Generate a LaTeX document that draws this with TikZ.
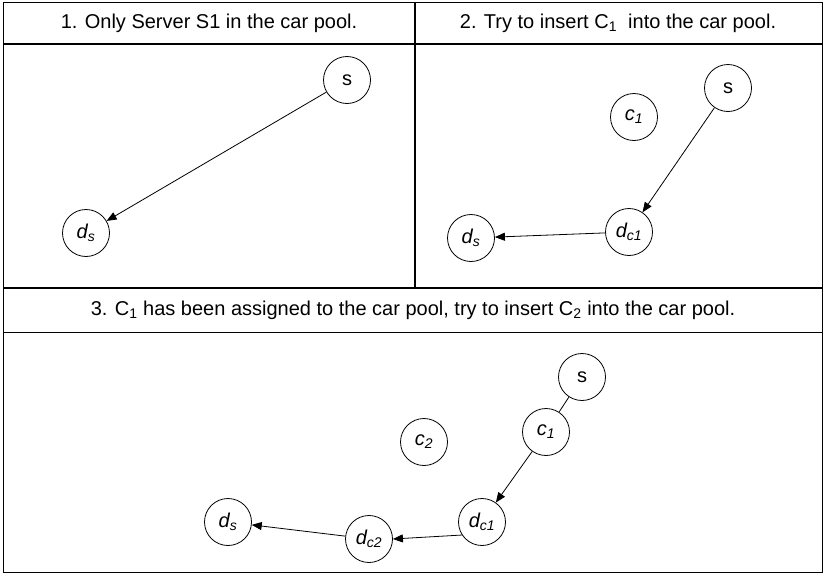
\documentclass[tikz,border=0pt]{standalone}
\usepackage{fontspec}
\setmainfont{Liberation Sans}
\usetikzlibrary{arrows.meta}
\begin{document}
\begin{tikzpicture}[x=1pt,y=-1pt,
  every node/.style={font=\fontsize{20}{24}\selectfont},
  frame/.style={line width=0.9pt},
  rule/.style={line width=1.8pt},
  vtx/.style={draw,circle,line width=0.8pt,minimum size=47pt,inner sep=0pt},
  link/.style={line width=0.8pt},
  arr/.style={link,-{Triangle[length=10pt,width=8pt]}}]
\useasboundingbox (0,0) rectangle (825,576);
% table frame
\draw[frame] (3,2) rectangle (822,572);
\draw[rule] (3,44) -- (822,44);
\draw[rule] (415,2) -- (415,288);
\draw[rule] (3,288) -- (822,288);
\draw[frame] (3,332) -- (822,332);
% headings
\node (h1) at (209,23) {1. Only Server S1 in the car pool.};
\node (h2) at (618,23) {2. Try to insert C\textsubscript{1}\ \ into the car pool.};
\node (h3) at (413,310) {3. C\textsubscript{1} has been assigned to the car pool, try to insert C\textsubscript{2} into the car pool.};
% panel 1
\node[vtx] (a-s) at (347,80) {s};
\node[vtx] (a-ds) at (86,233) {\textit{d\textsubscript{s}}};
\draw[arr] (a-s) -- (a-ds);
% panel 2
\node[vtx] (b-s) at (728,88) {s};
\node[vtx] (b-c1) at (634,117) {\textit{c\textsubscript{1}}};
\node[vtx] (b-dc1) at (629,232) {\textit{d\textsubscript{c1}}};
\node[vtx] (b-ds) at (471,238) {\textit{d\textsubscript{s}}};
\draw[arr] (b-s) -- (b-dc1);
\draw[arr] (b-dc1) -- (b-ds);
% panel 3
\node[vtx] (c-s) at (582,377) {s};
\node[vtx] (c-c1) at (546,432) {\textit{c\textsubscript{1}}};
\node[vtx] (c-c2) at (424,442) {\textit{c\textsubscript{2}}};
\node[vtx] (c-dc1) at (482,522) {\textit{d\textsubscript{c1}}};
\node[vtx] (c-dc2) at (369,539) {\textit{d\textsubscript{c2}}};
\node[vtx] (c-ds) at (228,522) {\textit{d\textsubscript{s}}};
\draw[link] (c-s) -- (c-c1);
\draw[arr] (c-c1) -- (c-dc1);
\draw[arr] (c-dc1.213) -- (c-dc2.east);
\draw[arr] (c-dc2) -- (c-ds);
\end{tikzpicture}
\end{document}
